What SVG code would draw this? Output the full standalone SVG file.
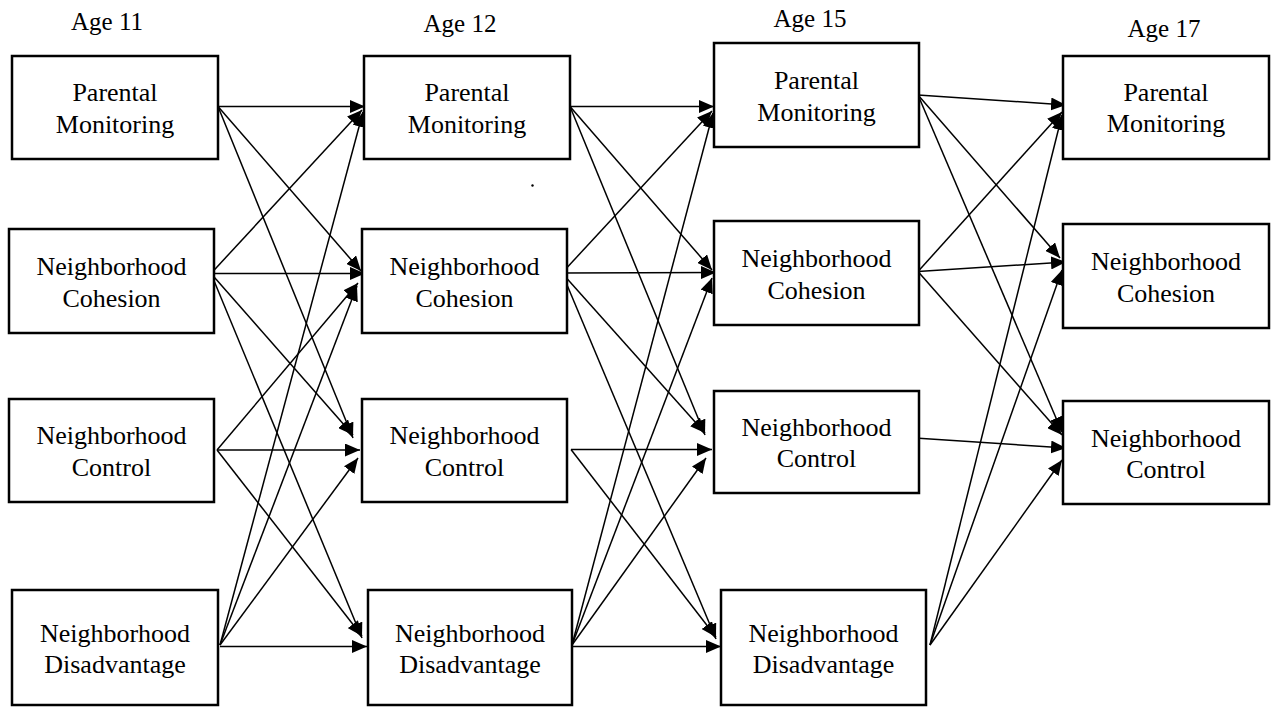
<svg xmlns="http://www.w3.org/2000/svg" width="1277" height="707" viewBox="0 0 1277 707">
<defs>
<marker id="ah" markerUnits="userSpaceOnUse" markerWidth="16" markerHeight="13" refX="15" refY="6.5" orient="auto">
<path d="M0,0 L15,6.5 L0,13 z" fill="#000"/>
</marker>
<style>
.box{fill:#fff;stroke:#000;stroke-width:2.5}
.lbl{font-family:"Liberation Serif","Times New Roman",serif;font-size:26px;fill:#000;text-anchor:middle}
.age{font-family:"Liberation Serif","Times New Roman",serif;font-size:25px;fill:#000;text-anchor:middle}
#connectors line{stroke:#000;stroke-width:1.5;fill:none;marker-end:url(#ah)}
</style>
</defs>
<rect width="1277" height="707" fill="#fff"/>
<g id="ages">
<text class="age" x="107" y="30">Age 11</text>
<text class="age" x="460" y="32">Age 12</text>
<text class="age" x="810" y="27">Age 15</text>
<text class="age" x="1164" y="37">Age 17</text>
</g>
<g id="connectors">
<!-- Age 11 -> Age 12 -->
<line x1="218" y1="106.5" x2="365" y2="106.5"/>
<line x1="218" y1="106.5" x2="361" y2="271"/>
<line x1="218" y1="106.5" x2="353" y2="438"/>
<line x1="211" y1="273.5" x2="362" y2="110"/>
<line x1="211" y1="273.5" x2="365" y2="273.5"/>
<line x1="211" y1="273.5" x2="353" y2="435"/>
<line x1="211" y1="273.5" x2="362" y2="638"/>
<line x1="217" y1="450" x2="358" y2="283"/>
<line x1="217" y1="450" x2="360" y2="450"/>
<line x1="217" y1="450" x2="362" y2="636"/>
<line x1="220" y1="645" x2="363" y2="112"/>
<line x1="220" y1="645" x2="357" y2="286"/>
<line x1="220" y1="645" x2="358" y2="458"/>
<line x1="220" y1="646.5" x2="367" y2="646.5"/>
<!-- Age 12 -> Age 15 -->
<line x1="570" y1="106.5" x2="714" y2="106.5"/>
<line x1="570" y1="106.5" x2="712" y2="270"/>
<line x1="570" y1="106.5" x2="705" y2="435"/>
<line x1="562" y1="273" x2="712" y2="111"/>
<line x1="562" y1="273" x2="716" y2="272.5"/>
<line x1="562" y1="273" x2="705" y2="433"/>
<line x1="562" y1="273" x2="716" y2="639"/>
<line x1="571" y1="449.5" x2="712" y2="449.5"/>
<line x1="571" y1="449.5" x2="716" y2="637"/>
<line x1="572" y1="645" x2="713" y2="113"/>
<line x1="572" y1="645" x2="712" y2="278"/>
<line x1="572" y1="645" x2="706" y2="458"/>
<line x1="572" y1="646.5" x2="721" y2="646.5"/>
<!-- Age 15 -> Age 17 -->
<line x1="918" y1="95" x2="1066" y2="105"/>
<line x1="918" y1="95" x2="1060" y2="258"/>
<line x1="918" y1="95" x2="1062" y2="432"/>
<line x1="918" y1="271.5" x2="1062" y2="112"/>
<line x1="918" y1="271.5" x2="1066" y2="262"/>
<line x1="918" y1="271.5" x2="1062" y2="435"/>
<line x1="915" y1="438" x2="1066" y2="448"/>
<line x1="930" y1="645" x2="1062" y2="115"/>
<line x1="930" y1="645" x2="1062" y2="270"/>
<line x1="930" y1="645" x2="1062" y2="460"/>
</g>
<g id="n-pm11"><rect class="box" x="12" y="56" width="206" height="103"/><text class="lbl" x="115" y="100.5">Parental</text><text class="lbl" x="115" y="132.5">Monitoring</text></g>
<g id="n-nc11"><rect class="box" x="9" y="229" width="205" height="104"/><text class="lbl" x="111.5" y="275">Neighborhood</text><text class="lbl" x="111.5" y="307">Cohesion</text></g>
<g id="n-nctrl11"><rect class="box" x="9" y="399" width="205" height="103"/><text class="lbl" x="111.5" y="444">Neighborhood</text><text class="lbl" x="111.5" y="476">Control</text></g>
<g id="n-nd11"><rect class="box" x="12" y="590" width="206" height="115"/><text class="lbl" x="115" y="641.5">Neighborhood</text><text class="lbl" x="115" y="673">Disadvantage</text></g>
<g id="n-pm12"><rect class="box" x="364" y="56" width="206" height="103"/><text class="lbl" x="467" y="100.5">Parental</text><text class="lbl" x="467" y="132.5">Monitoring</text></g>
<g id="n-nc12"><rect class="box" x="362" y="229" width="205" height="104"/><text class="lbl" x="464.5" y="275">Neighborhood</text><text class="lbl" x="464.5" y="307">Cohesion</text></g>
<g id="n-nctrl12"><rect class="box" x="362" y="399" width="205" height="103"/><text class="lbl" x="464.5" y="444">Neighborhood</text><text class="lbl" x="464.5" y="476">Control</text></g>
<g id="n-nd12"><rect class="box" x="368" y="590" width="204" height="115"/><text class="lbl" x="470" y="641.5">Neighborhood</text><text class="lbl" x="470" y="673">Disadvantage</text></g>
<g id="n-pm15"><rect class="box" x="714" y="43" width="205" height="104"/><text class="lbl" x="816.5" y="89">Parental</text><text class="lbl" x="816.5" y="121">Monitoring</text></g>
<g id="n-nc15"><rect class="box" x="714" y="221" width="205" height="104"/><text class="lbl" x="816.5" y="267">Neighborhood</text><text class="lbl" x="816.5" y="298.5">Cohesion</text></g>
<g id="n-nctrl15"><rect class="box" x="714" y="391" width="205" height="102"/><text class="lbl" x="816.5" y="435.5">Neighborhood</text><text class="lbl" x="816.5" y="466.5">Control</text></g>
<g id="n-nd15"><rect class="box" x="721" y="590" width="205" height="115"/><text class="lbl" x="823.5" y="641.5">Neighborhood</text><text class="lbl" x="823.5" y="673">Disadvantage</text></g>
<g id="n-pm17"><rect class="box" x="1063" y="56" width="206" height="103"/><text class="lbl" x="1166" y="101">Parental</text><text class="lbl" x="1166" y="132">Monitoring</text></g>
<g id="n-nc17"><rect class="box" x="1063" y="224" width="206" height="104"/><text class="lbl" x="1166" y="270">Neighborhood</text><text class="lbl" x="1166" y="301.5">Cohesion</text></g>
<g id="n-nctrl17"><rect class="box" x="1063" y="401" width="206" height="103"/><text class="lbl" x="1166" y="446.5">Neighborhood</text><text class="lbl" x="1166" y="477.5">Control</text></g>
<circle cx="532.5" cy="185.5" r="1.2" fill="#000"/>
</svg>
